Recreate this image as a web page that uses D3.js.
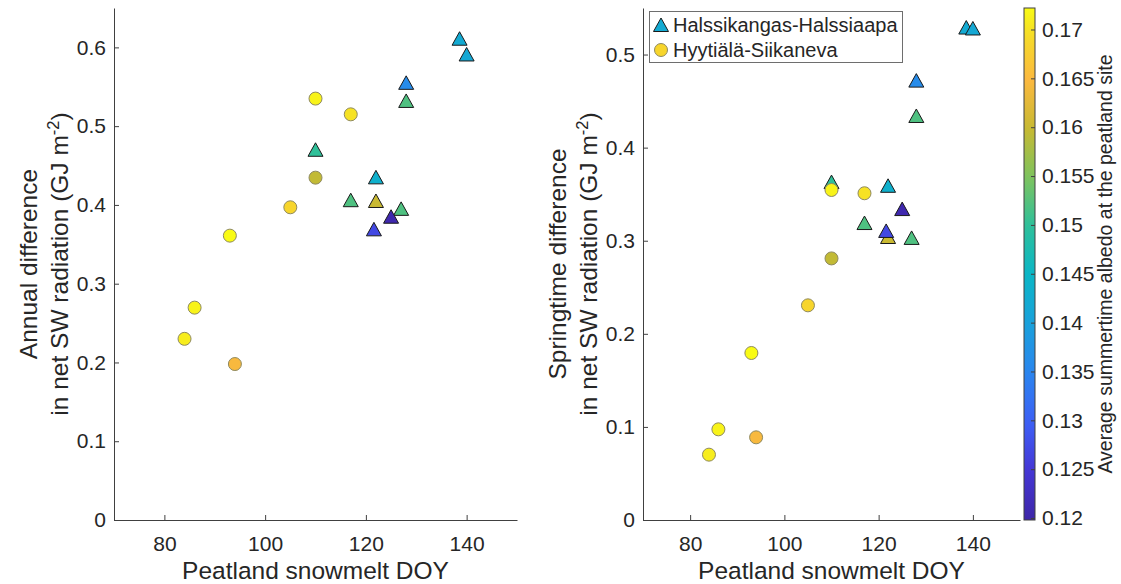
<!DOCTYPE html>
<html><head><meta charset="utf-8">
<script src="https://cdn.jsdelivr.net/npm/d3@7"></script>
<style>
body{margin:0;background:#fff}
svg{display:block}
text{font-family:"Liberation Sans",Arial,Helvetica,sans-serif;fill:#262626}
</style>
</head><body>
<svg id="c" width="1121" height="584"></svg>
<script>
// ---------- data ----------
const seriesNames = ["Halssikangas-Halssiaapa", "Hyytiälä-Siikaneva"];
const xTicks = [80, 100, 120, 140];
const annualTicks = [0, 0.1, 0.2, 0.3, 0.4, 0.5, 0.6];
const springTicks = [0, 0.1, 0.2, 0.3, 0.4, 0.5];
const cbarTicks = [0.12, 0.125, 0.13, 0.135, 0.14, 0.145, 0.15, 0.155, 0.16, 0.165, 0.17];
const cbarTickLabels = ["0.12", "0.125", "0.13", "0.135", "0.14", "0.145", "0.15", "0.155", "0.16", "0.165", "0.17"];
const xDomain = [70, 150];
const annualDomain = [0, 0.65];
const springDomain = [0, 0.55];
const albedoDomain = [0.1198, 0.1722];

// Halssikangas-Halssiaapa (triangles)
const doyH     = [138.6, 140, 128, 128, 110, 122, 117, 122, 127, 125, 121.6];
const annualH  = [0.611, 0.591, 0.555, 0.532, 0.470, 0.435, 0.406, 0.405, 0.395, 0.385, 0.369];
const springH  = [0.529, 0.528, 0.472, 0.434, 0.363, 0.359, 0.319, 0.304, 0.303, 0.334, 0.3105];
const albedoH  = [0.142, 0.1415, 0.136, 0.152, 0.150, 0.1435, 0.152, 0.160, 0.152, 0.1205, 0.127];

// Hyytiälä-Siikaneva (circles)
const doyY     = [105, 110, 117, 110, 93, 86, 84, 94];
const annualY  = [0.397, 0.535, 0.515, 0.4346, 0.361, 0.2696, 0.230, 0.198];
const springY  = [0.2306, 0.3545, 0.351, 0.281, 0.1794, 0.0974, 0.0702, 0.0888];
const albedoY  = [0.1685, 0.1715, 0.170, 0.1595, 0.1722, 0.1715, 0.171, 0.1645];

// parula-like colormap stops
const parulaT = [0, 0.1, 0.19, 0.29, 0.38, 0.48, 0.575, 0.67, 0.765, 0.86, 0.95, 1];
const parulaC = ["#3e26a8", "#4538d6", "#3d5ff5", "#2a86ee", "#1aa0dc", "#0bb6c6",
                 "#2ec09a", "#7ec35e", "#c8b932", "#fcb93f", "#f5dd27", "#f9fb14"];

// ---------- drawing ----------
const svg = d3.select("#c");
const FONT = '"Liberation Sans",Arial,Helvetica,sans-serif';
const axisCol = "#404040";
const parulaScale = d3.scaleLinear().domain(parulaT).range(parulaC).interpolate(d3.interpolateRgb).clamp(true);
const color = d3.scaleSequential(t => parulaScale(t)).domain(albedoDomain);

const TOP = 8, BOTTOM = 520;
const LABEL_FS = 24.5;
const triPath = "M0,-7 L7.5,6.5 L-7.5,6.5 Z";

function drawPanel(x0, x1, yDomain, yTicks, yH, yY, label1) {
  const x = d3.scaleLinear().domain(xDomain).range([x0, x1]);
  const y = d3.scaleLinear().domain(yDomain).range([BOTTOM, TOP]);
  const g = svg.append("g");

  const gx = g.append("g").attr("transform", `translate(0,${BOTTOM})`)
    .call(d3.axisBottom(x).tickValues(xTicks).tickSizeInner(-5).tickSizeOuter(0).tickPadding(16));
  const gy = g.append("g").attr("transform", `translate(${x0},0)`)
    .call(d3.axisLeft(y).tickValues(yTicks).tickFormat(d => String(+d.toFixed(2))).tickSizeInner(-5).tickSizeOuter(0).tickPadding(8));
  [gx, gy].forEach(a => {
    a.attr("font-size", 21).attr("font-family", FONT);
    a.selectAll("path,line").attr("stroke", axisCol);
    a.selectAll("text").attr("fill", "#262626");
  });

  // x label
  g.append("text").attr("x", (x0 + x1) / 2).attr("y", 579).attr("text-anchor", "middle")
    .attr("font-size", LABEL_FS).text("Peatland snowmelt DOY");
  // y label (two lines)
  const cy = (TOP + BOTTOM) / 2;
  g.append("text").attr("transform", `translate(${x0 - 77},${cy}) rotate(-90)`)
    .attr("text-anchor", "middle").attr("font-size", LABEL_FS).text(label1);
  const t2 = g.append("text").attr("transform", `translate(${x0 - 46},${cy}) rotate(-90)`)
    .attr("text-anchor", "middle").attr("font-size", LABEL_FS);
  t2.append("tspan").text("in net SW radiation (GJ m");
  t2.append("tspan").attr("font-size", 16.5).attr("dy", -9).text("-2");
  t2.append("tspan").attr("dy", 9).text(")");

  // triangles
  g.append("g").selectAll("path").data(doyH.map((d, i) => i)).join("path")
    .attr("d", triPath)
    .attr("transform", i => `translate(${x(doyH[i])},${y(yH[i])})`)
    .attr("fill", i => color(albedoH[i])).attr("stroke", "#1a1a1a").attr("stroke-width", 1);
  // circles
  g.append("g").selectAll("circle").data(doyY.map((d, i) => i)).join("circle")
    .attr("cx", i => x(doyY[i])).attr("cy", i => y(yY[i])).attr("r", 6.5)
    .attr("fill", i => color(albedoY[i])).attr("stroke", "#8f8a60").attr("stroke-width", 1);
  return {x, y};
}

drawPanel(114, 517, annualDomain, annualTicks, annualH, annualY, "Annual difference");
drawPanel(643, 1020, springDomain, springTicks, springH, springY, "Springtime difference");

// legend
const lg = svg.append("g");
lg.append("rect").attr("x", 649.5).attr("y", 11.5).attr("width", 253).attr("height", 51)
  .attr("fill", "#fff").attr("stroke", "#6e6e6e").attr("stroke-width", 1);
lg.append("path").attr("d", triPath).attr("transform", "translate(661,25)")
  .attr("fill", color(albedoH[0])).attr("stroke", "#1a1a1a");
lg.append("circle").attr("cx", 661).attr("cy", 50).attr("r", 6.5)
  .attr("fill", color(albedoY[0])).attr("stroke", "#8f8a60");
lg.append("text").attr("x", 673).attr("y", 32).attr("font-size", 20).text(seriesNames[0]);
lg.append("text").attr("x", 673).attr("y", 57).attr("font-size", 20).text(seriesNames[1]);

// colorbar
const cbX = 1024, cbW = 11;
const cb = d3.scaleLinear().domain(albedoDomain).range([BOTTOM, TOP]);
const defs = svg.append("defs");
const grad = defs.append("linearGradient").attr("id", "cbg").attr("x1", 0).attr("y1", 1).attr("x2", 0).attr("y2", 0);
d3.range(0, 1.0001, 0.02).forEach(t => grad.append("stop").attr("offset", t).attr("stop-color", parulaScale(t)));
svg.append("rect").attr("x", cbX).attr("y", TOP).attr("width", cbW).attr("height", BOTTOM - TOP)
  .attr("fill", "url(#cbg)").attr("stroke", "#404040").attr("stroke-width", 1);
const gc = svg.append("g").attr("transform", `translate(${cbX + cbW},0)`)
  .call(d3.axisRight(cb).tickValues(cbarTicks).tickFormat((d, i) => cbarTickLabels[i]).tickSizeInner(-4).tickSizeOuter(0).tickPadding(7));
gc.select(".domain").remove();
gc.attr("font-size", 21).attr("font-family", FONT);
gc.selectAll("line").attr("stroke", "#404040");
gc.selectAll("text").attr("fill", "#262626");
svg.append("text").attr("transform", `translate(1112,${(TOP + BOTTOM) / 2}) rotate(-90)`)
  .attr("text-anchor", "middle").attr("font-size", 19.5).text("Average summertime albedo at the peatland site");
</script>
</body></html>
